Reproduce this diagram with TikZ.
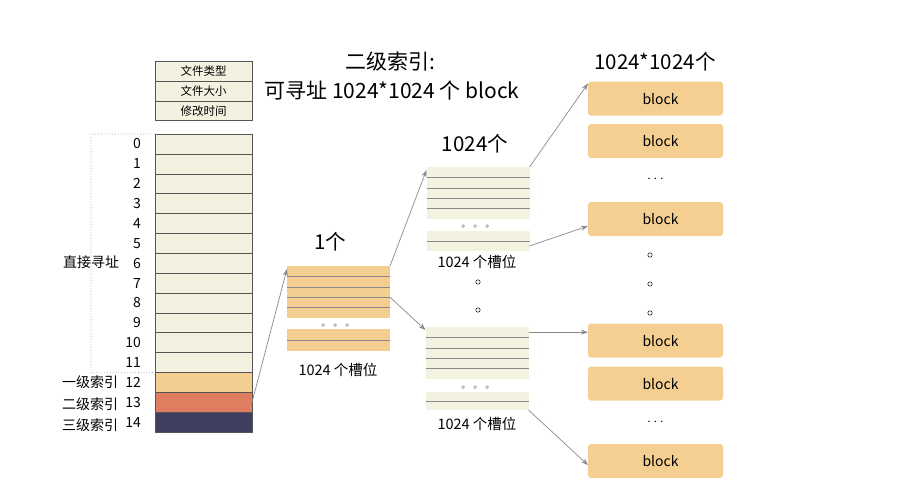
\documentclass[tikz,border=0pt]{standalone}
\usepackage{fontspec}
\usepackage{xcolor}
\usetikzlibrary{arrows.meta}
\newfontfamily\cjk{Noto Sans CJK SC}
\definecolor{cellcol}{RGB}{243,241,224}
\definecolor{linecol}{RGB}{85,85,85}
\definecolor{orangecol}{RGB}{244,205,145}
\definecolor{salmoncol}{RGB}{224,124,96}
\definecolor{navycol}{RGB}{62,63,94}
\definecolor{blockcol}{RGB}{245,207,146}
\definecolor{arrowcol}{RGB}{138,138,138}

\begin{document}
\begin{tikzpicture}[x=1pt,y=-1pt,
  every node/.style={font=\cjk\fontsize{14}{16}\selectfont,inner sep=0pt,outer sep=0pt},
  cell/.style={draw=linecol,fill=cellcol,line width=0.6pt,minimum width=97pt,minimum height=19.87pt},
  slot/.style={fill=#1,minimum width=103pt,minimum height=10.4pt},
  sep/.style={draw=arrowcol,line width=0.6pt},
  block/.style={fill=blockcol,rounded corners=3pt,minimum width=135pt,minimum height=34pt,text depth=0pt,
    execute at begin node={\hspace*{10pt}}},
  link/.style={draw=arrowcol,line width=0.7pt,-{Stealth[length=7pt,width=5pt]}},
  ring/.style={draw=black,line width=0.5pt},
  big/.style={font=\cjk\fontsize{20.5}{23}\selectfont},
  small/.style={font=\cjk\fontsize{14.5}{16}\selectfont}]
\useasboundingbox (0,0) rectangle (913,488);

% file header
\node[cell,font=\cjk\fontsize{11.5}{13}\selectfont] (h1) at (203.5,71) {文件类型};
\node[cell,font=\cjk\fontsize{11.5}{13}\selectfont] (h2) at (203.5,90.87) {文件大小};
\node[cell,font=\cjk\fontsize{11.5}{13}\selectfont] (h3) at (203.5,110.74) {修改时间};

% inode table
\foreach \i in {0,...,11}
  \node[cell] (c\i) at (203.5,{144+19.87*\i}) {};
\node[cell,fill=orangecol] (c12) at (203.5,{144+19.87*12}) {};
\node[cell,fill=salmoncol] (c13) at (203.5,{144+19.87*13}) {};
\node[cell,fill=navycol] (c14) at (203.5,{144+19.87*14}) {};
\foreach \i in {0,...,14}
  \node[anchor=east] (n\i) at ([xshift=-14pt]c\i.west) {\i};
\draw[gray!70,dotted,line width=0.8pt] (c0.north west) -- (91,134) -- (91,373) -- (c11.south west);
\node[anchor=east] (direct) at (119,262) {直接寻址};
\node[anchor=east] (lv1) at (118,382) {一级索引};
\node[anchor=east] (lv2) at (118,404) {二级索引};
\node[anchor=east] (lv3) at (118,425) {三级索引};

% titles
\node[big,font=\cjk\fontsize{21}{24}\selectfont] (t1) at (390,62) {二级索引:};
\node[big,font=\cjk\fontsize{21}{24}\selectfont] (t2) at (392,90) {可寻址 1024*1024 个 block};

% first level
\node[big] (one) at (330,242) {1个};
\foreach \i in {1,...,5}
  \node[slot=orangecol] (a\i) at (338.5,{266+10.4*(\i-0.5)}) {};
\foreach \i in {1,...,4}
  \draw[sep] (a\i.south west) -- (a\i.south east);
\foreach \i in {1,2}
  \node[slot=orangecol,minimum height=11pt] (b\i) at (338.5,{329+11*(\i-0.5)}) {};
\draw[sep] (b1.south west) -- (b1.south east);
\foreach \x in {323,335,347}
  \draw[arrowcol,line width=0.5pt] (\x,325) circle (1.4);
\node[small] (slots1) at (338,370) {1024 个槽位};

% second level, upper
\node[big] (many) at (475,144) {1024个};
\foreach \i in {1,...,5}
  \node[slot=cellcol] (u\i) at (478,{167+10.4*(\i-0.5)}) {};
\foreach \i in {1,...,4}
  \draw[sep] (u\i.south west) -- (u\i.south east);
\foreach \i in {1,2}
  \node[slot=cellcol] (v\i) at (478,{231+10*(\i-0.5)}) {};
\draw[sep] (v1.south west) -- (v1.south east);
\foreach \x in {463,475,487}
  \draw[arrowcol,line width=0.5pt] (\x,226) circle (1.4);
\node[small] (slots2) at (477,262) {1024 个槽位};

\draw[ring] (478,282) circle (2.2);
\draw[ring] (478,310) circle (2.2);

% second level, lower
\foreach \i in {1,...,5}
  \node[slot=cellcol] (l\i) at (477,{327+10.4*(\i-0.5)}) {};
\foreach \i in {1,...,4}
  \draw[sep] (l\i.south west) -- (l\i.south east);
\foreach \i in {1,2}
  \node[slot=cellcol,minimum height=9pt] (m\i) at (477,{392+9*(\i-0.5)}) {};
\draw[sep] (m1.south west) -- (m1.south east);
\foreach \x in {463,475,487}
  \draw[arrowcol,line width=0.5pt] (\x,387) circle (1.4);
\node[small] (slots3) at (477,424) {1024 个槽位};

% data blocks
\node[big] (total) at (655,62) {1024*1024个};
\node[block] (k1) at (655.5,98.5) {block};
\node[block] (k2) at (655.5,141) {block};
\node (dots1) at (655.5,179) {$\cdots$};
\node[block] (k3) at (655.5,219) {block};
\draw[ring] (650,255) circle (2.2);
\draw[ring] (650,284) circle (2.2);
\draw[ring] (650,313) circle (2.2);
\node[block] (k4) at (655.5,340.5) {block};
\node[block] (k5) at (655.5,383.5) {block};
\node (dots2) at (655.5,422) {$\cdots$};
\node[block] (k6) at (655.5,461) {block};

% pointers
\draw[link] (c13.east) -- ([yshift=-3pt]a1.north west);
\draw[link] (a1.north east) -- ([yshift=-3pt]u1.north west);
\draw[link] (a3.south east) -- ([yshift=-3pt]l1.north west);
\draw[link] (u1.north east) -- ([yshift=-2pt]k1.north west);
\draw[link] (v2.east) -- ([yshift=-7pt]k3.west);
\draw[link] (l1.east) -- (l1.east -| k4.west);
\draw[link] (m2.south east) -- ([yshift=-4pt]k6.west);
\end{tikzpicture}
\end{document}
